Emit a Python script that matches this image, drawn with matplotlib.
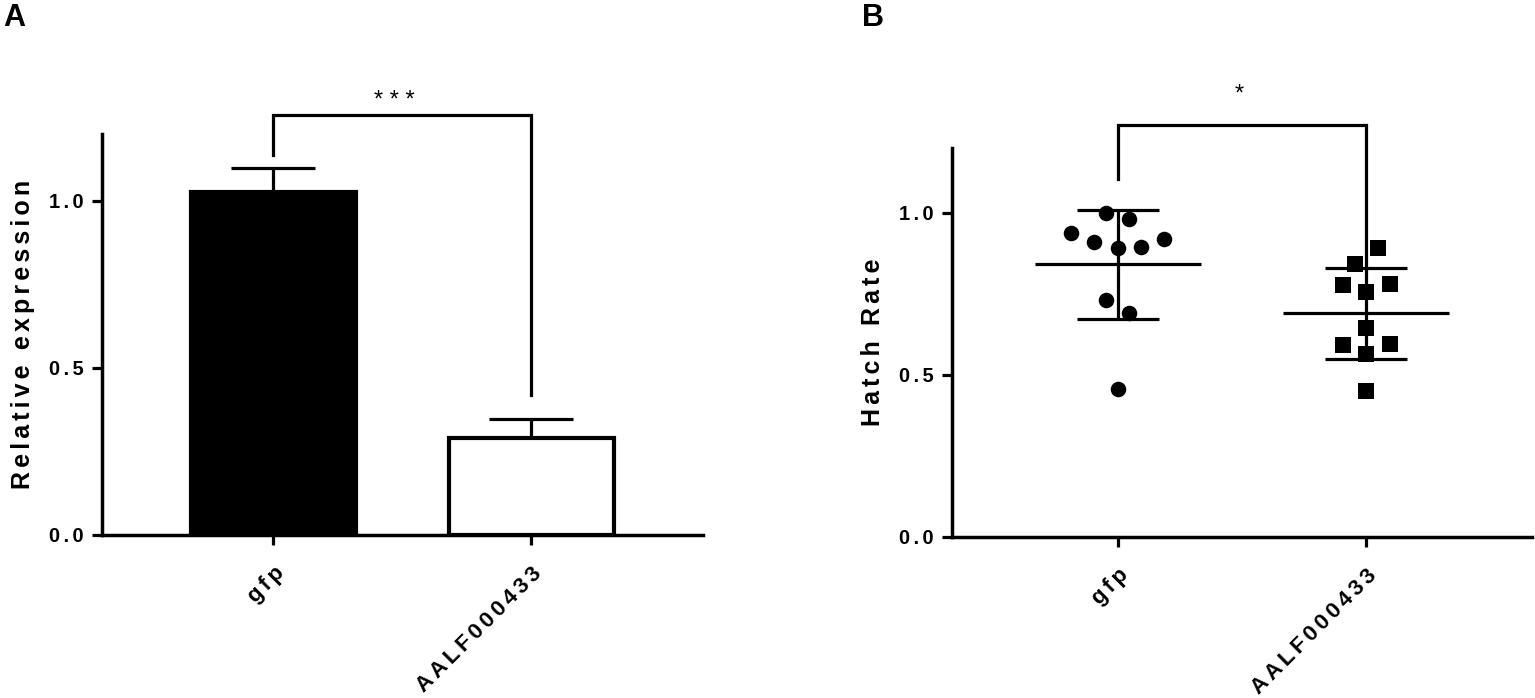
import matplotlib
matplotlib.use('Agg')
import matplotlib.pyplot as plt
import numpy as np

plt.rcParams['font.family'] = ['Liberation Sans', 'DejaVu Sans']

groups = ['gfp', 'AALF000433']

# panel A: relative expression, mean and SEM
expr_mean = [1.027, 0.291]
expr_err = [0.070, 0.057]

# panel B: hatch rate, single replicates
hatch_gfp = [1.00, 0.982, 0.938, 0.909, 0.893, 0.894, 0.918, 0.732, 0.691, 0.457]
hatch_aalf = [0.893, 0.842, 0.778, 0.782, 0.757, 0.644, 0.592, 0.594, 0.566, 0.450]
gfp_jitter = [-0.049, 0.046, -0.19, -0.096, 0.0, 0.093, 0.185, -0.049, 0.046, 0.0]
aalf_jitter = [0.049, -0.046, -0.093, 0.096, 0.0, 0.0, -0.093, 0.096, 0.0, 0.0]

sig_a = '***'
sig_b = '*'


def spaced(s, sp='\u2006'):
    return sp.join(s)


LW = 2.3

fig = plt.figure(figsize=(15.35, 6.98), dpi=100)
axA = fig.add_axes([101.5 / 1535, 1 - 535 / 698, (703 - 101.5) / 1535, (535 - 134) / 698])
axB = fig.add_axes([952 / 1535, 1 - 537 / 698, (1532 - 952) / 1535, (537 - 148) / 698])


def style(ax, ylabel):
    for s in ['top', 'right']:
        ax.spines[s].set_visible(False)
    for s in ['left', 'bottom']:
        ax.spines[s].set_linewidth(2.5)
    ax.set_xlim(-0.667, 1.667)
    ax.set_ylim(0, 1.2)
    ax.set_yticks([0, 0.5, 1.0])
    ax.set_yticklabels([spaced('%.1f' % v) for v in [0, 0.5, 1.0]],
                       fontsize=14.5, fontweight='bold')
    ax.set_xticks([0, 1])
    ax.set_xticklabels([spaced(g) for g in groups], rotation=45, ha='right',
                       rotation_mode='anchor', fontsize=16, fontweight='bold')
    ax.tick_params(axis='both', length=7, width=LW, color='black')
    ax.tick_params(axis='x', pad=13)
    ax.tick_params(axis='y', pad=6)
    ax.set_ylabel(spaced(ylabel), fontsize=18, fontweight='bold', labelpad=10)


# ---- panel A
style(axA, 'Relative expression')
x = np.arange(len(groups))
axA.bar(x, expr_mean, width=0.64, color=['black', 'white'], edgecolor='black',
        linewidth=3.0, zorder=2)
axA.errorbar(x, expr_mean, yerr=[[0, 0], expr_err], fmt='none', ecolor='black',
             elinewidth=LW, capsize=30, capthick=LW, zorder=1)
axA.plot([0, 0, 1, 1], [1.137, 1.257, 1.257, 0.42], color='black', lw=LW,
         clip_on=False, solid_joinstyle='miter')
axA.text(0.47, 1.30, spaced(sig_a, ' '), ha='center', va='center', fontsize=17,
         clip_on=False)

# ---- panel B
style(axB, 'Hatch Rate')
for i, (vals, jit, mk) in enumerate([(hatch_gfp, gfp_jitter, 'o'),
                                     (hatch_aalf, aalf_jitter, 's')]):
    vals = np.array(vals)
    m = vals.mean()
    sd = vals.std(ddof=1)
    axB.scatter(i + np.array(jit), vals, marker=mk, s=125, color='black',
                zorder=3, linewidths=0)
    axB.hlines(m, i - 0.333, i + 0.333, color='black', lw=LW)
    axB.vlines(i, m - sd, m + sd, color='black', lw=LW)
    axB.hlines([m - sd, m + sd], i - 0.165, i + 0.165, color='black', lw=LW)

axB.plot([0, 0, 1, 1], [1.103, 1.272, 1.272, 0.832], color='black', lw=LW,
         clip_on=False, solid_joinstyle='miter')
axB.text(0.49, 1.365, sig_b, ha='center', va='center', fontsize=17, clip_on=False)

fig.text(0.002, 0.995, 'A', fontsize=22, fontweight='bold', ha='left', va='top')
fig.text(862 / 1535, 0.995, 'B', fontsize=22, fontweight='bold', ha='left', va='top')

fig.savefig('out.png', dpi=100)
